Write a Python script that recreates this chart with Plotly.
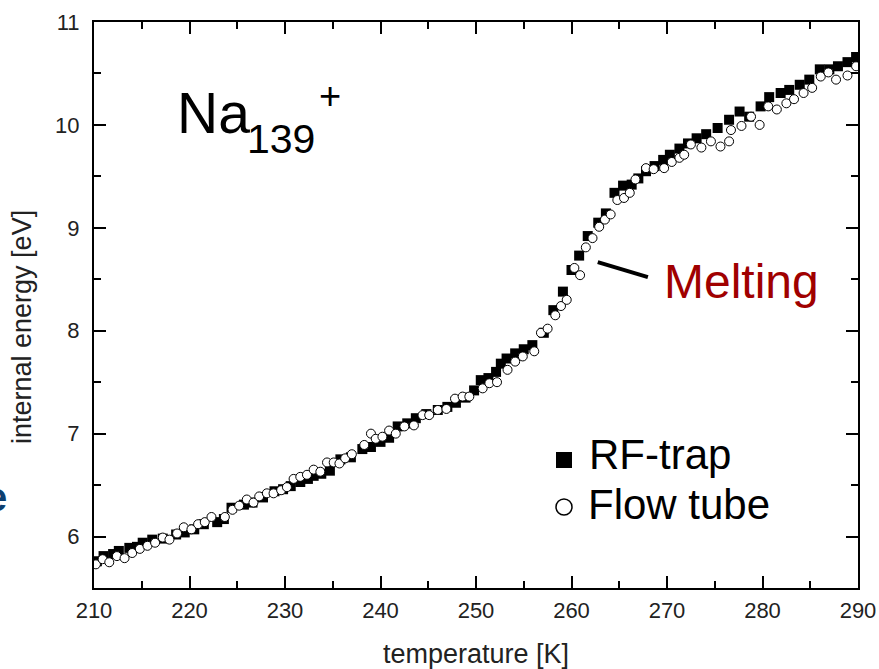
import plotly.graph_objects as go

# ---------------- data ----------------
rf_T = [210.3, 211.0, 212.0, 212.6, 213.7, 214.5, 215.1, 216.1, 217.2, 218.6,
        219.5, 220.5, 221.5, 222.9, 223.6, 224.4, 225.7, 226.6, 227.7, 228.9,
        229.8, 230.6, 231.6, 232.4, 233.0, 233.8, 234.7, 235.8, 236.9, 238.1,
        239.0, 240.0, 240.9, 241.8, 242.8, 243.7, 244.8, 246.0, 247.0, 247.9,
        248.9, 249.8, 250.5, 251.3, 252.1, 252.6, 253.2, 254.1, 255.0, 255.9,
        257.1, 258.1, 259.1, 260.0, 260.8, 261.7, 262.8, 263.6, 264.5, 265.4,
        266.3, 267.0, 267.8, 268.7, 269.6, 270.3, 271.3, 272.2, 273.1, 274.1,
        275.3, 276.5, 277.6, 278.6, 279.8, 280.7, 281.9, 282.8, 283.9, 284.9,
        286.0, 287.0, 287.9, 288.9, 289.8]
rf_E = [5.76, 5.81, 5.83, 5.86, 5.89, 5.90, 5.94, 5.97, 5.98, 6.02,
        6.04, 6.07, 6.12, 6.14, 6.17, 6.28, 6.31, 6.33, 6.38, 6.44,
        6.46, 6.49, 6.53, 6.56, 6.59, 6.61, 6.64, 6.75, 6.77, 6.85,
        6.87, 6.92, 6.96, 7.07, 7.10, 7.15, 7.19, 7.23, 7.26, 7.30,
        7.35, 7.42, 7.52, 7.54, 7.60, 7.68, 7.73, 7.78, 7.82, 7.86,
        7.98, 8.20, 8.38, 8.59, 8.73, 8.92, 9.05, 9.14, 9.34, 9.41,
        9.42, 9.48, 9.55, 9.60, 9.66, 9.71, 9.77, 9.82, 9.87, 9.91,
        9.97, 10.05, 10.13, 10.08, 10.18, 10.27, 10.31, 10.34, 10.39, 10.44,
        10.54, 10.54, 10.57, 10.61, 10.66]

ft_T = [210.2, 210.9, 211.6, 212.4, 213.2, 214.0, 214.8, 215.6, 216.4, 217.2,
        217.9, 218.7, 219.4, 220.2, 220.9, 221.6, 222.3, 223.7, 224.5, 225.2,
        226.0, 226.7, 227.3, 228.1, 228.8, 229.6, 230.2, 230.9, 231.6, 232.3,
        233.0, 233.7, 234.4, 235.1, 235.7, 236.3, 237.0, 238.3, 239.0, 239.5,
        240.2, 240.9, 241.6, 242.5, 243.5, 244.4, 245.1, 246.0, 246.9, 247.8,
        248.6, 249.3, 250.7, 251.4, 252.2, 253.3, 254.1, 254.9, 256.1, 256.8,
        257.5, 258.3, 258.9, 259.5, 260.3, 260.9, 261.5, 262.2, 262.9, 263.5,
        264.1, 264.8, 265.5, 266.1, 266.7, 267.8, 268.6, 269.7, 270.5, 271.3,
        271.8, 272.5, 273.6, 274.6, 275.6, 276.5, 276.7, 277.8, 278.8, 279.7,
        280.6, 281.5, 282.5, 283.3, 284.3, 285.2, 286.1, 286.9, 287.7, 288.9,
        289.8]
ft_E = [5.73, 5.78, 5.75, 5.81, 5.79, 5.84, 5.88, 5.91, 5.94, 5.99,
        5.97, 6.03, 6.09, 6.07, 6.12, 6.14, 6.19, 6.19, 6.26, 6.30,
        6.36, 6.33, 6.39, 6.42, 6.42, 6.45, 6.48, 6.56, 6.58, 6.60,
        6.65, 6.63, 6.72, 6.72, 6.71, 6.76, 6.80, 6.89, 7.00, 6.95,
        6.97, 7.03, 7.00, 7.07, 7.08, 7.18, 7.18, 7.23, 7.24, 7.34,
        7.36, 7.36, 7.44, 7.49, 7.50, 7.62, 7.70, 7.75, 7.80, 7.98,
        8.02, 8.15, 8.24, 8.30, 8.61, 8.54, 8.81, 8.90, 9.01, 9.08,
        9.13, 9.27, 9.29, 9.34, 9.47, 9.58, 9.57, 9.58, 9.64, 9.68,
        9.71, 9.81, 9.78, 9.84, 9.79, 9.84, 9.95, 9.99, 10.08, 10.00,
        10.18, 10.15, 10.21, 10.25, 10.31, 10.36, 10.47, 10.51, 10.44, 10.48,
        10.57]

series_names = ["RF-trap", "Flow tube"]
x_title = "temperature [K]"
y_title = "internal energy [eV]"

# ---------------- layout helpers (pixel -> paper) ----------------
W, H = 879, 669
L, R, T, B = 94, 21, 22, 81
PW, PH = W - L - R, H - T - B


def px(x):
    return (x - L) / PW


def py(y):
    return (H - B - y) / PH


FONT = "Liberation Sans, Arial, sans-serif"

fig = go.Figure()
fig.add_trace(go.Scatter(
    x=rf_T, y=rf_E, mode="markers", name=series_names[0], showlegend=False,
    marker=dict(symbol="square", size=10, color="black", line=dict(width=0))))
fig.add_trace(go.Scatter(
    x=ft_T, y=ft_E, mode="markers", name=series_names[1], showlegend=False,
    marker=dict(symbol="circle", size=9, color="white", line=dict(width=1, color="black"))))

axis_common = dict(
    showline=True, linecolor="black", linewidth=2, mirror="allticks",
    ticks="inside", ticklen=12, tickwidth=2, tickcolor="black",
    showgrid=False, zeroline=False, automargin=False,
    tickfont=dict(family=FONT, size=22, color="#222"),
)

fig.update_xaxes(range=[210, 290], dtick=10, tick0=210, ticklabelstandoff=2,
                 minor=dict(ticks="inside", ticklen=7, tickwidth=2, dtick=5, tickcolor="black"),
                 **axis_common)
fig.update_yaxes(range=[5.5, 11], dtick=1, tick0=6, ticklabelstandoff=8,
                 minor=dict(ticks="inside", ticklen=7, tickwidth=2, dtick=0.5, tickcolor="black"),
                 **axis_common)

ann = []
# axis titles
ann.append(dict(text=x_title, x=px(475.5), y=py(654), xref="paper", yref="paper",
                xanchor="center", yanchor="middle", showarrow=False,
                font=dict(family=FONT, size=27, color="#222")))
ann.append(dict(text=y_title, x=px(22), y=py(327), xref="paper", yref="paper",
                xanchor="center", yanchor="middle", textangle=-90, showarrow=False,
                font=dict(family=FONT, size=27, color="#222")))
# Na139+
ann.append(dict(text="Na", x=px(175), y=py(113), xref="paper", yref="paper",
                xanchor="left", yanchor="middle", showarrow=False,
                font=dict(family=FONT, size=57, color="black")))
ann.append(dict(text="139", x=px(245), y=py(139), xref="paper", yref="paper",
                xanchor="left", yanchor="middle", showarrow=False,
                font=dict(family=FONT, size=41, color="black")))
ann.append(dict(text="+", x=px(317), y=py(96), xref="paper", yref="paper",
                xanchor="left", yanchor="middle", showarrow=False,
                font=dict(family=FONT, size=38, color="black")))
# Melting
ann.append(dict(text="Melting", x=px(662), y=py(281), xref="paper", yref="paper",
                xanchor="left", yanchor="middle", showarrow=False,
                font=dict(family=FONT, size=48, color="#a00000")))
# legend labels
ann.append(dict(text=series_names[0], x=px(587), y=py(454), xref="paper", yref="paper",
                xanchor="left", yanchor="middle", showarrow=False,
                font=dict(family=FONT, size=42, color="black")))
ann.append(dict(text=series_names[1], x=px(586), y=py(504), xref="paper", yref="paper",
                xanchor="left", yanchor="middle", showarrow=False,
                font=dict(family=FONT, size=42, color="black")))
# cut-off slide glyph at left edge (cut in the reference too)
ann.append(dict(text="<b>e</b>", x=px(9), y=py(497), xref="paper", yref="paper",
                xanchor="right", yanchor="middle", showarrow=False,
                font=dict(family=FONT, size=40, color="#0d3f70")))

shapes = [
    # melting pointer line (data coords)
    dict(type="line", xref="x", yref="y", x0=262.75, y0=8.667, x1=268.0, y1=8.52,
         line=dict(color="black", width=4)),
    # legend symbols
    dict(type="rect", xref="paper", yref="paper",
         x0=px(556), x1=px(572), y0=py(468), y1=py(452),
         fillcolor="black", line=dict(width=0)),
    dict(type="circle", xref="paper", yref="paper",
         x0=px(556), x1=px(572), y0=py(515), y1=py(499),
         fillcolor="white", line=dict(width=1.5, color="black")),
]

fig.update_layout(
    width=W, height=H,
    margin=dict(l=L, r=R, t=T, b=B, pad=0, autoexpand=False),
    paper_bgcolor="white", plot_bgcolor="white",
    annotations=ann, shapes=shapes, showlegend=False,
    font=dict(family=FONT),
)

fig.write_html("out.html")
